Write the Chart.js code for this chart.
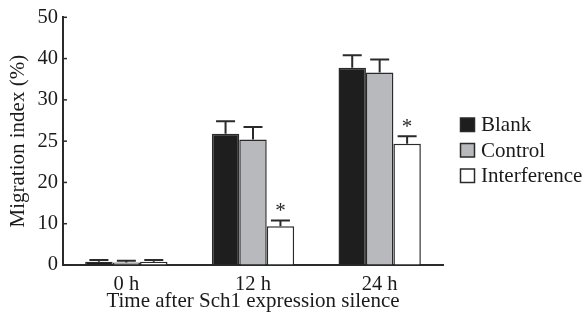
<!DOCTYPE html>
<html>
<head>
<meta charset="utf-8">
<script src="https://cdn.jsdelivr.net/npm/chart.js@4"></script>
<style>
  html, body { margin: 0; padding: 0; background: #fff; }
  #wrap { width: 584px; height: 320px; }
</style>
</head>
<body>
<div id="wrap"><canvas id="chart" width="584" height="320"></canvas></div>
<script>
// data
const categories = ["0 h", "12 h", "24 h"];
const seriesNames = ["Blank", "Control", "Interference"];
const blankValues = [0.8, 25.9, 37.8];
const controlValues = [0.6, 25.2, 36.6];
const interferenceValues = [0.8, 9.4, 24.7];
const blankErrors = [0.4, 1.5, 3.0];
const controlErrors = [0.4, 1.5, 3.2];
const interferenceErrors = [0.4, 1.4, 0.9];
const interferenceSignificant = [false, true, true];
// the y axis of the figure has evenly spaced but uneven labels
const yTickLabels = [0, 10, 20, 25, 30, 40, 50];

const serif = "'Liberation Serif', 'Times New Roman', serif";
const ink = "#2a2a2a";

// map a value onto the evenly spaced tick positions of the figure's axis
function toAxis(v) {
    for (let i = 0; i < yTickLabels.length - 1; i++) {
        const a = yTickLabels[i], b = yTickLabels[i + 1];
        if (v <= b) return i + (v - a) / (b - a);
    }
    return yTickLabels.length - 1;
}

const seriesValues = [blankValues, controlValues, interferenceValues];
const seriesErrors = [blankErrors, controlErrors, interferenceErrors];
const seriesFill = ["#1e1e1e", "#b8b9bc", "#ffffff"];

const datasets = seriesNames.map(function (name, i) {
    return {
        label: name,
        data: seriesValues[i].map(toAxis),
        backgroundColor: seriesFill[i],
        borderColor: ink,
        borderWidth: 1.5,
        barPercentage: 1,
        categoryPercentage: 0.65
    };
});

// error bars, asterisks, inner y ticks and the legend
const extras = {
    id: "extras",
    afterDatasetsDraw(chart) {
        const ctx = chart.ctx;
        const y = chart.scales.y;
        ctx.save();
        ctx.strokeStyle = ink;
        ctx.lineWidth = 2;
        chart.data.datasets.forEach(function (ds, d) {
            const meta = chart.getDatasetMeta(d);
            meta.data.forEach(function (bar, i) {
                const top = y.getPixelForValue(toAxis(seriesValues[d][i] + seriesErrors[d][i]));
                ctx.beginPath();
                ctx.moveTo(bar.x, bar.y);
                ctx.lineTo(bar.x, top);
                ctx.moveTo(bar.x - 9.5, top);
                ctx.lineTo(bar.x + 9.5, top);
                ctx.stroke();
                if (d === 2 && interferenceSignificant[i]) {
                    ctx.fillStyle = ink;
                    ctx.font = "21px " + serif;
                    ctx.textAlign = "center";
                    ctx.textBaseline = "middle";
                    ctx.fillText("*", bar.x, top - 9);
                }
            });
        });
        ctx.restore();
    },
    afterDraw(chart) {
        const ctx = chart.ctx;
        const y = chart.scales.y;
        ctx.save();
        ctx.strokeStyle = ink;
        ctx.lineWidth = 1.5;
        yTickLabels.forEach(function (t, i) {
            const py = y.getPixelForValue(i);
            ctx.beginPath();
            ctx.moveTo(y.right, py);
            ctx.lineTo(y.right + 4, py);
            ctx.stroke();
        });
        // legend
        const lx = 460.5, ly = 124.5, row = 25.5;
        ctx.font = "21px " + serif;
        ctx.textBaseline = "middle";
        ctx.textAlign = "left";
        chart.data.datasets.forEach(function (ds, i) {
            const cy = ly + i * row;
            ctx.fillStyle = ds.backgroundColor;
            ctx.fillRect(lx, cy - 6.5, 14, 13.5);
            ctx.strokeRect(lx, cy - 6.5, 14, 13.5);
            ctx.fillStyle = "#1a1a1a";
            ctx.fillText(ds.label, lx + 20.5, cy + 1);
        });
        ctx.restore();
    }
};

new Chart(document.getElementById("chart").getContext("2d"), {
    type: "bar",
    data: { labels: categories, datasets: datasets },
    plugins: [extras],
    options: {
        responsive: false,
        animation: false,
        layout: { padding: { top: 15, right: 141, bottom: 0, left: 0 } },
        plugins: { legend: { display: false }, tooltip: { enabled: false } },
        scales: {
            x: {
                grid: { display: true, drawOnChartArea: false, drawTicks: false },
                border: { display: true, color: ink, width: 2 },
                ticks: { color: "#1a1a1a", padding: 7, font: { family: serif, size: 20.5 } },
                title: {
                    display: true,
                    text: "Time after Sch1 expression silence",
                    color: "#1a1a1a",
                    font: { family: serif, size: 21 },
                    padding: { top: 0, bottom: 6 }
                },
                afterFit(scale) { scale.height = 55; }
            },
            y: {
                min: 0,
                max: yTickLabels.length - 1,
                grid: { display: true, drawOnChartArea: false, drawTicks: false },
                border: { display: true, color: ink, width: 2 },
                ticks: {
                    stepSize: 1,
                    color: "#1a1a1a",
                    padding: 5,
                    font: { family: serif, size: 20.5 },
                    callback: function (v) { return yTickLabels[v]; }
                },
                title: {
                    display: true,
                    text: "Migration index (%)",
                    color: "#1a1a1a",
                    font: { family: serif, size: 21 },
                    padding: { top: 6, bottom: 0 }
                },
                afterFit(scale) { scale.width = 63; }
            }
        }
    }
});
</script>
</body>
</html>
